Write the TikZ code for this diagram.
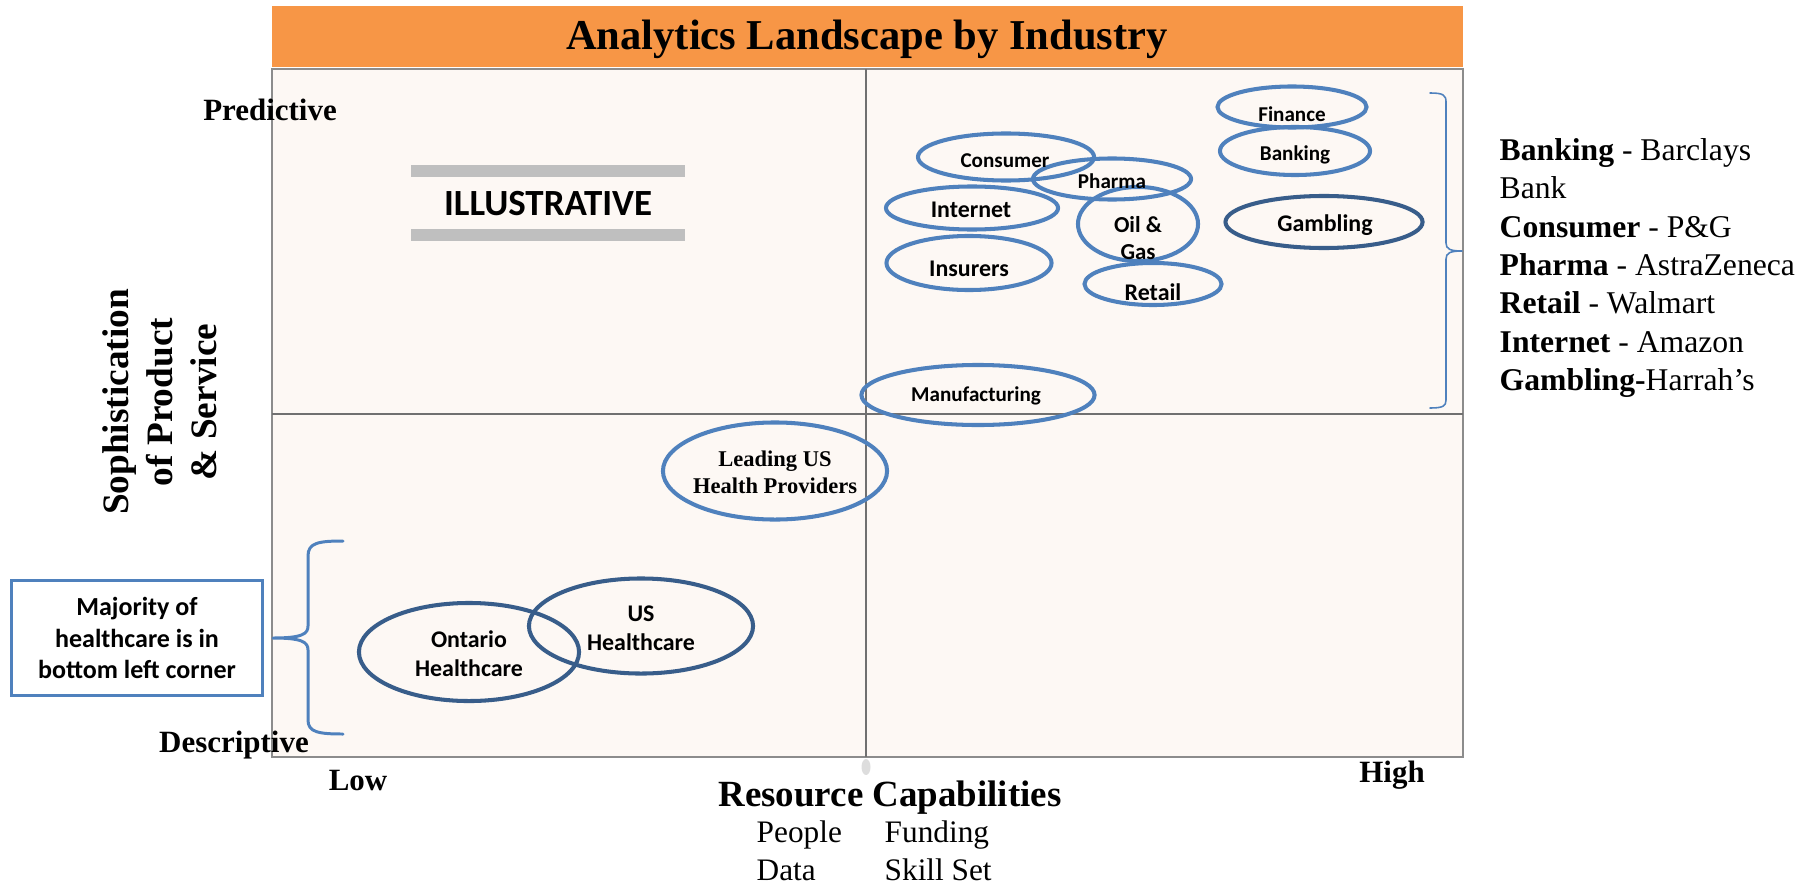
\documentclass[tikz,border=0pt]{standalone}
\usepackage{fontspec}
\setmainfont{Liberation Serif}
\newfontfamily\calfont{Carlito}
\usetikzlibrary{shapes.geometric}
\definecolor{barorange}{HTML}{F79646}
\definecolor{plotbg}{HTML}{FDF8F4}
\definecolor{framegray}{HTML}{8C8C8C}
\definecolor{ltblue}{HTML}{4F81BD}
\definecolor{dkblue}{HTML}{385D8A}
\definecolor{illgray}{HTML}{BFBFBF}
\begin{document}
\begin{tikzpicture}[x=0.01cm, y=-0.01cm,
  ind/.style={ellipse, draw=ltblue, line width=1.15pt, inner sep=0pt},
  inddk/.style={ind, draw=dkblue},
  cal/.style 2 args={font=\calfont\bfseries\fontsize{#1}{#2}\selectfont, inner sep=0pt, align=center},
  serb/.style={font=\bfseries\fontsize{#1}{#1}\selectfont, inner sep=0pt},
  serr/.style={font=\fontsize{8.9}{10}\selectfont, inner sep=0pt, anchor=west},
  bracestyle/.style={draw=ltblue, line cap=round, line join=round}]
\useasboundingbox (0,0) rectangle (1810,885);

% title bar
\node[fill=barorange, minimum width=11.91cm, minimum height=0.61cm, inner sep=0pt] (bar) at (867.5,36.5) {};
\node[serb=12.1, anchor=base] (title) at (867,50) {Analytics Landscape by Industry};

% quadrant chart
\draw[framegray, line width=0.6pt, fill=plotbg] (272,69) rectangle (1463,757);
\draw[framegray!80!black, line width=0.45pt] (866,69) -- (866,757);
\draw[framegray!80!black, line width=0.45pt] (272,414) -- (1463,414);
\fill[gray!45, opacity=0.6] (866,767) ellipse [x radius=0.45mm, y radius=0.8mm];

% illustrative stamp
\fill[illgray] (411,165) rectangle (685,177);
\fill[illgray] (411,229) rectangle (685,241);
\node[cal={10.5}{12}] (illus) at (548,204) {ILLUSTRATIVE};

% industries
\node[ind, minimum width=1.49cm, minimum height=0.41cm] (efin) at (1292,107) {};
\node[ind, minimum width=1.50cm, minimum height=0.48cm] (ebank) at (1295,151) {};
\node[ind, minimum width=1.76cm, minimum height=0.47cm] (econs) at (1006,157) {};
\node[ind, minimum width=1.58cm, minimum height=0.41cm] (epharma) at (1112,179) {};
\node[ind, minimum width=1.72cm, minimum height=0.43cm] (enet) at (972,208) {};
\node[ind, minimum width=1.20cm, minimum height=0.74cm] (eoil) at (1138,224) {};
\node[inddk, minimum width=1.97cm, minimum height=0.52cm] (egamb) at (1324,222) {};
\node[ind, minimum width=1.65cm, minimum height=0.54cm] (eins) at (969,263) {};
\node[ind, minimum width=1.37cm, minimum height=0.42cm] (eret) at (1153,284) {};
\node[ind, minimum width=2.33cm, minimum height=0.60cm] (emanu) at (978,395) {};
\node[ind, minimum width=2.24cm, minimum height=0.97cm] (elead) at (775,471) {};
\node[inddk, minimum width=2.20cm, minimum height=0.98cm] (eont) at (469,652) {};
\node[inddk, minimum width=2.24cm, minimum height=0.95cm] (eus) at (641,626) {};

\node[cal={6.0}{7}] (tfin) at (1292,114) {Finance};
\node[cal={6.0}{7}] (tbank) at (1295,155) {Banking};
\node[cal={6.0}{7}] (tcons) at (1005,161) {Consumer};
\node[cal={6.0}{7}] (tpharma) at (1112,181) {Pharma};
\node[cal={6.8}{8}] (tnet) at (971,210) {Internet};
\node[cal={6.5}{7.7}] (toil) at (1138,238) {Oil \&\\Gas};
\node[cal={6.8}{8}] (tgamb) at (1325,225) {Gambling};
\node[cal={6.8}{8}] (tins) at (969,269) {Insurers};
\node[cal={6.8}{8}] (tret) at (1153,292) {Retail};
\node[cal={6.0}{7}] (tmanu) at (976,396) {Manufacturing};
\node[font=\bfseries\fontsize{6.4}{7.7}\selectfont, align=center, inner sep=0pt] (tlead) at (775,472) {Leading US\\Health Providers};
\node[cal={6.8}{8.25}] (tont) at (469,654) {Ontario\\Healthcare};
\node[cal={6.8}{8.25}] (tus) at (641,628) {US\\Healthcare};

% healthcare call-out
\node[draw=ltblue, line width=0.85pt, minimum width=2.51cm, minimum height=1.15cm, cal={7.4}{9}] (maj) at (137,638) {Majority of\\healthcare is in\\bottom left corner};
\draw[bracestyle, line width=0.85pt] (343,541) .. controls (318,541) and (308,543) .. (308,556) -- (308,626)
  .. controls (308,634) and (302,638) .. (273,638)
  .. controls (302,638) and (308,642) .. (308,650) -- (308,720)
  .. controls (308,732) and (318,734) .. (343,734);

% predictive group brace and examples
\draw[bracestyle, line width=0.45pt] (1430,93) .. controls (1443,93) and (1446,95) .. (1446,102) -- (1446,243)
  .. controls (1446,249) and (1450,251) .. (1462,251)
  .. controls (1450,251) and (1446,253) .. (1446,259) -- (1446,400)
  .. controls (1446,406) and (1443,408) .. (1430,408);
\node[font=\fontsize{9.0}{10.9}\selectfont, align=left, anchor=west, inner sep=0pt] (legend) at (1499,268)
  {\textbf{Banking} - Barclays\\Bank\\\textbf{Consumer} - P\&G\\\textbf{Pharma} - AstraZeneca\\\textbf{Retail} - Walmart\\\textbf{Internet} - Amazon\\\textbf{Gambling-}Harrah’s};

% axes
\node[serb=8.8] (pred) at (270,110) {Predictive};
\node[serb=8.8] (desc) at (234,745) {Descriptive};
\node[serb=8.8] (low) at (358,781) {Low};
\node[serb=8.8] (high) at (1392,775) {High};
\node[font=\bfseries\fontsize{10.6}{12.5}\selectfont, align=center, rotate=90, inner sep=0pt] (yaxis) at (160,402) {Sophistication\\of Product\\\& Service};
\node[serb=10.5] (xaxis) at (890,798) {Resource Capabilities};
\node[serr] (people) at (756,835) {People};
\node[serr] (funding) at (884,835) {Funding};
\node[serr] (data) at (756,870) {Data};
\node[serr] (skill) at (884,870) {Skill Set};
\end{tikzpicture}
\end{document}
